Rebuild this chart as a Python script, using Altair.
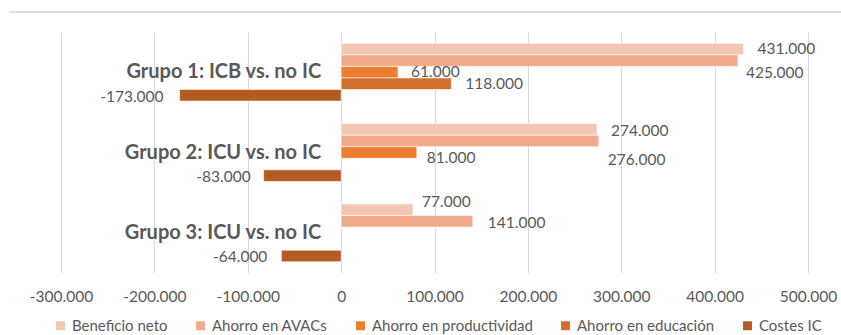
import altair as alt
import pandas as pd

# Chart data
groups = ["Grupo 1: ICB vs. no IC", "Grupo 2: ICU vs. no IC", "Grupo 3: ICU vs. no IC"]
series = ["Beneficio neto", "Ahorro en AVACs", "Ahorro en productividad",
          "Ahorro en educación", "Costes IC"]
colors = ["#F6C6B4", "#F1A98B", "#ED7D31", "#D46F2A", "#B35B22"]

beneficio_neto = [431000, 274000, 77000]
ahorro_avacs = [425000, 276000, 141000]
ahorro_productividad = [61000, 81000, None]
ahorro_educacion = [118000, None, None]
costes_ic = [-173000, -83000, -64000]

x_ticks = [-300000, -200000, -100000, 0, 100000, 200000, 300000, 400000, 500000]

# Hand-placed label nudges (dx, dy) in pixels, keyed by (group index, series index)
label_nudge = {
    (0, 0): (14, 0), (0, 1): (8, 12), (0, 2): (13, 0), (0, 3): (14, 0), (0, 4): (-16, 2),
    (1, 0): (14, 2), (1, 1): (9, 19), (1, 2): (10, 5), (1, 4): (-13, 1),
    (2, 0): (9, -8), (2, 1): (15, 2), (2, 4): (-14, 1),
}

columns = [beneficio_neto, ahorro_avacs, ahorro_productividad, ahorro_educacion, costes_ic]
rows = []
for si, (name, vals) in enumerate(zip(series, columns)):
    for gi, v in enumerate(vals):
        if v is None:
            continue
        dx, dy = label_nudge.get((gi, si), (12, 0))
        rows.append({
            "group": groups[gi],
            "series": name,
            "value": v,
            "label": f"{v:,}".replace(",", "."),
            "nudge": f"{dx}|{dy}",
        })
df = pd.DataFrame(rows)

GRAY = "#595959"
FONT = "Lato"

x_enc = alt.X(
    "value:Q",
    scale=alt.Scale(domain=[-300000, 500000], nice=False, zero=False),
    axis=alt.Axis(
        values=x_ticks, title=None, grid=True, gridColor="#D9D9D9", gridWidth=1,
        domain=False, ticks=False, labelPadding=16, labelFontSize=15.5,
        labelColor=GRAY, labelFont=FONT, labelOverlap=False, labelBound=False,
        labelFlush=False,
        labelExpr="datum.value == 0 ? '0' : (datum.value < 0 ? '-' : '') + format(abs(datum.value) / 1000, 'd') + '.000'",
    ),
)
y_enc = alt.Y(
    "group:N",
    sort=groups,
    scale=alt.Scale(domain=groups, paddingInner=0.28, paddingOuter=0.14),
    axis=None,
)
yoff_enc = alt.YOffset(
    "series:N", sort=series,
    scale=alt.Scale(domain=series, paddingInner=0, paddingOuter=0),
)

base = alt.Chart(df)

bars = base.mark_bar(stroke="white", strokeWidth=0.6).encode(
    x=x_enc,
    x2=alt.datum(0),
    y=y_enc,
    yOffset=yoff_enc,
    color=alt.Color(
        "series:N",
        sort=series,
        scale=alt.Scale(domain=series, range=colors),
        legend=alt.Legend(
            title=None, orient="none", direction="horizontal",
            legendX=-8, legendY=286, padding=0,
            symbolType="square", symbolSize=80, symbolStrokeWidth=0,
            labelFontSize=15, labelColor=GRAY, labelFont=FONT, labelLimit=400,
            columnPadding=25, labelOffset=4,
        ),
    ),
)

# Value labels, one layer per nudge amount
label_layers = []
for key in sorted(df["nudge"].unique()):
    dx, dy = (int(p) for p in key.split("|"))
    label_layers.append(
        base.transform_filter(alt.datum.nudge == key)
        .mark_text(
            align="left" if dx > 0 else "right", baseline="middle",
            dx=dx, dy=dy, fontSize=15.5, color=GRAY, font=FONT,
        )
        .encode(x=x_enc, y=y_enc, yOffset=yoff_enc, text="label:N")
    )

# Group names placed just left of the zero line
group_df = pd.DataFrame({"group": groups})
group_labels = alt.Chart(group_df).mark_text(
    align="right", baseline="middle", dx=-20, fontSize=20,
    fontWeight="bold", color=GRAY, font=FONT,
).encode(x=alt.datum(0), y=y_enc, text="group:N")

# Thin frame line along the top of the chart area
frame_line = alt.Chart(group_df).mark_rule(color="#D9D9D9", strokeWidth=1, clip=False).encode(
    x=alt.value(-52), x2=alt.value(780), y=alt.value(-20)
)

chart = alt.layer(bars, *label_layers, group_labels, frame_line).properties(
    width=747,
    height=241,
    autosize=alt.AutoSizeParams(type="none"),
    padding={"left": 61, "top": 32, "right": 33, "bottom": 62},
    background="white",
).configure_view(stroke=None)

chart.save("out.html", embed_options={"renderer": "svg", "actions": False})
